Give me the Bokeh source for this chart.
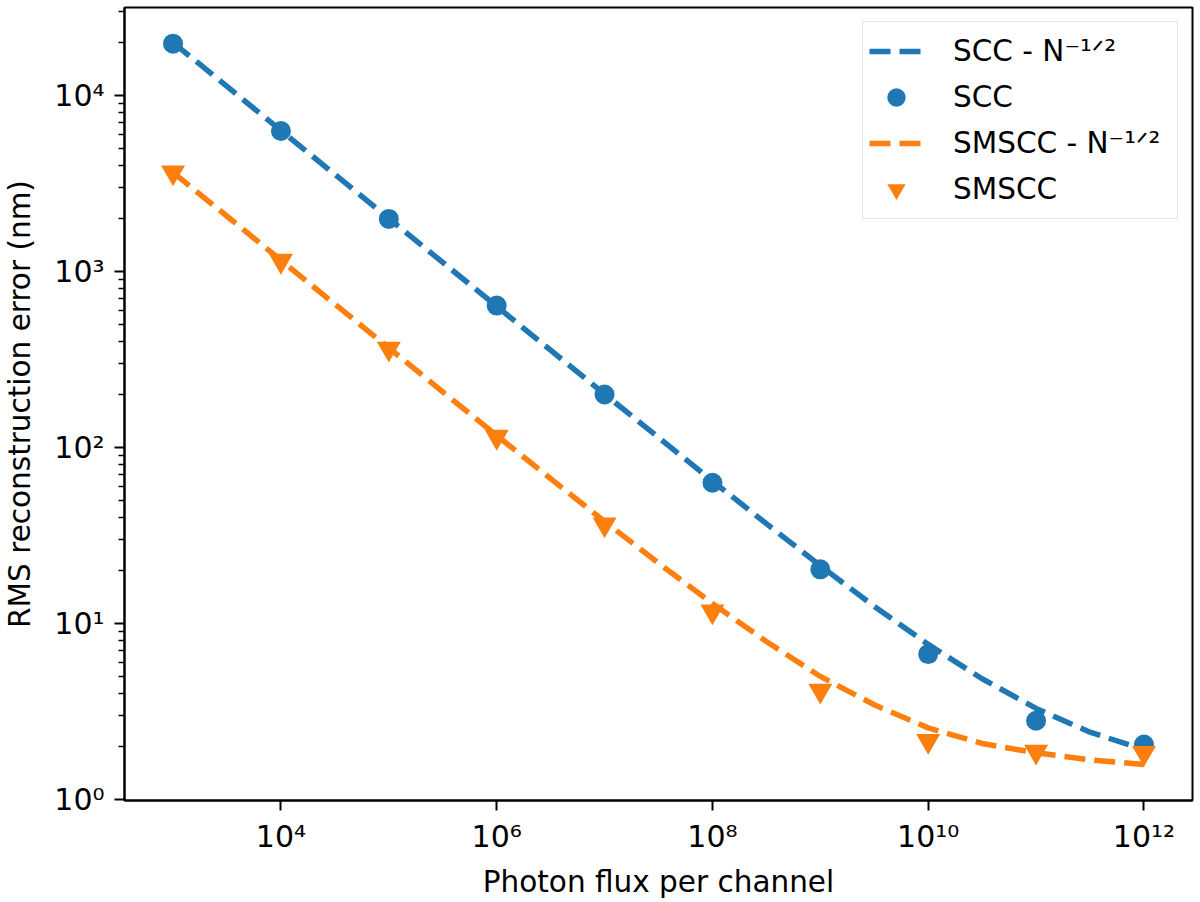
from bokeh.plotting import figure
from bokeh.models import Range1d, FixedTicker, CustomJSTickFormatter, Legend, LegendItem
from bokeh.embed import file_html
from bokeh.resources import INLINE

# ---- data ----
flux = [1e3, 1e4, 1e5, 1e6, 1e7, 1e8, 1e9, 1e10, 1e11, 1e12]
scc = [19700, 6280, 1990, 640, 200, 63, 20.3, 6.7, 2.8, 2.05]
smscc = [3660, 1150, 364, 115, 36.5, 11.7, 4.15, 2.15, 1.87, 1.84]

fit_exponent = [3.0, 3.5, 4.0, 4.5, 5.0, 5.5, 6.0, 6.5, 7.0, 7.5,
                8.0, 8.5, 9.0, 9.5, 10.0, 10.5, 11.0, 11.5, 12.0]
scc_fit = [20000, 11250, 6330, 3560, 2000, 1126, 634, 357, 201, 114,
           64.5, 36.9, 21.3, 12.5, 7.6, 4.85, 3.29, 2.41, 1.92]
smscc_fit = [3660, 2060, 1160, 652, 368, 207, 117, 66.5, 38, 22,
             13.0, 7.9, 5.0, 3.45, 2.55, 2.08, 1.84, 1.68, 1.58]

x_major = [1e4, 1e6, 1e8, 1e10, 1e12]
y_major = [1, 10, 100, 1000, 10000]
y_minor = [m * 10 ** k for k in range(0, 5) for m in range(2, 10)]

labels = ["SCC - N\u207b\u00b9\u141f\u00b2", "SCC",
          "SMSCC - N\u207b\u00b9\u141f\u00b2", "SMSCC"]
blue = "#1f77b4"
orange = "#ff7f0e"

fit_flux = [10 ** e for e in fit_exponent]

FONT = "DejaVu Sans"

p = figure(frame_width=1068, frame_height=793,
           x_axis_type="log", y_axis_type="log",
           x_range=Range1d(10 ** 2.55, 10 ** 12.45),
           y_range=Range1d(10 ** -0.006, 10 ** 4.5),
           output_backend="svg", toolbar_location=None,
           min_border_left=115, min_border_right=4,
           min_border_top=7, min_border_bottom=90)

p.xgrid.visible = False
p.ygrid.visible = False
p.outline_line_color = "black"
p.outline_line_width = 2
p.outline_line_alpha = 1.0

sup_code = """
const sup = {"0":"\u2070","1":"\u00b9","2":"\u00b2","3":"\u00b3","4":"\u2074",
             "5":"\u2075","6":"\u2076","7":"\u2077","8":"\u2078","9":"\u2079","-":"\u207b"};
const e = Math.round(Math.log10(tick));
return "10" + String(e).split("").map(c => sup[c]).join("");
"""

for ax in (p.xaxis[0], p.yaxis[0]):
    ax.formatter = CustomJSTickFormatter(code=sup_code)
    ax.axis_line_width = 2
    ax.major_tick_line_width = 2
    ax.minor_tick_line_width = 1.5
    ax.major_tick_in = 0
    ax.major_tick_out = 10
    ax.minor_tick_in = 0
    ax.minor_tick_out = 6
    ax.major_label_text_font = FONT
    ax.major_label_text_font_size = "30px"
    ax.major_label_text_color = "black"
    ax.axis_label_text_font = FONT
    ax.axis_label_text_font_size = "29.5px"
    ax.axis_label_text_font_style = "normal"
    ax.axis_label_text_color = "black"

p.xaxis[0].ticker = FixedTicker(ticks=x_major, minor_ticks=[])
p.yaxis[0].ticker = FixedTicker(ticks=y_major, minor_ticks=y_minor)
p.xaxis[0].axis_label = "Photon flux per channel"
p.yaxis[0].axis_label = "RMS reconstruction error (nm)"
p.xaxis[0].major_label_standoff = 8
p.yaxis[0].major_label_standoff = 10
p.xaxis[0].axis_label_standoff = 8
p.yaxis[0].axis_label_standoff = 14

l1 = p.line(fit_flux, scc_fit, line_color=blue, line_width=5.5,
            line_dash="21 9", line_cap="butt")
s1 = p.scatter(flux, scc, marker="circle", size=20, fill_color=blue,
               line_color=blue, line_width=0)
l2 = p.line(fit_flux, smscc_fit, line_color=orange, line_width=5.5,
            line_dash="21 9", line_cap="butt")
s2 = p.scatter(flux, smscc, marker="inverted_triangle", size=24,
               fill_color=orange, line_color=orange, line_width=0)

legend = Legend(items=[LegendItem(label=labels[0], renderers=[l1]),
                       LegendItem(label=labels[1], renderers=[s1]),
                       LegendItem(label=labels[2], renderers=[l2]),
                       LegendItem(label=labels[3], renderers=[s2])],
                location="top_right", margin=14, padding=6, spacing=0,
                glyph_width=54, glyph_height=46, label_height=46,
                label_width=218, label_standoff=30,
                label_text_font=FONT, label_text_font_size="29.5px",
                label_text_color="black",
                border_line_color="#cccccc", border_line_width=1.5,
                background_fill_color="white", background_fill_alpha=0.8)
p.add_layout(legend)

open("out.html", "w").write(file_html(p, INLINE))
